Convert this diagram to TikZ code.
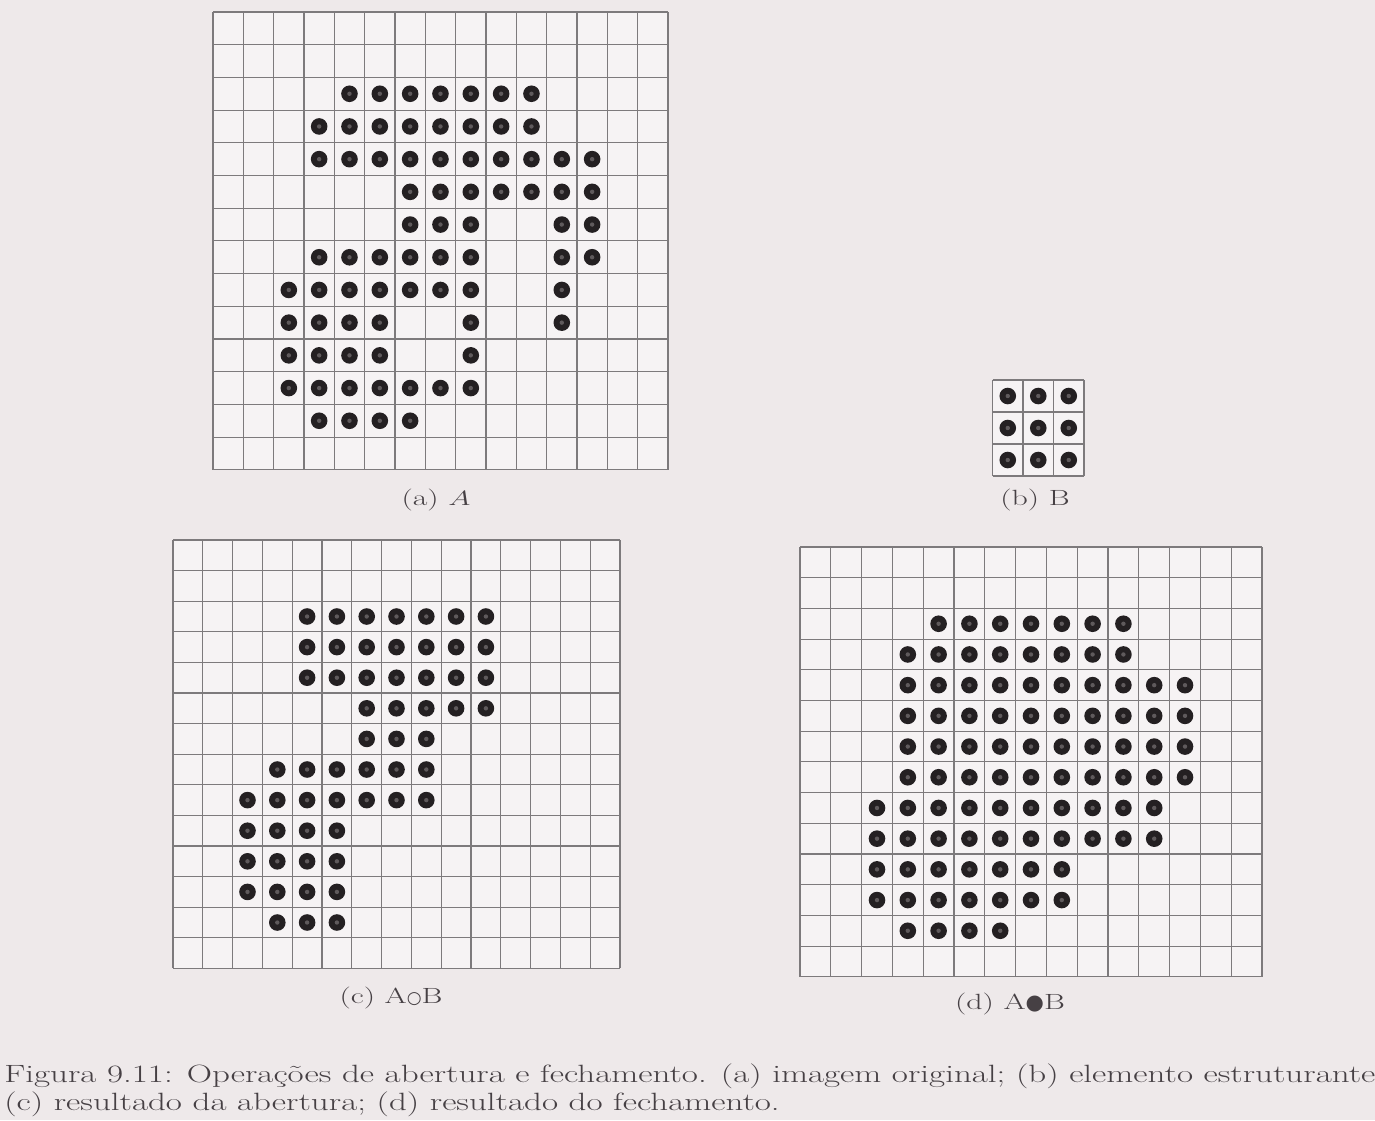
\documentclass[tikz,border=0pt]{standalone}
\usepackage{fontspec}
\newfontfamily\dejavu{DejaVu Sans}
\definecolor{paper}{RGB}{238,233,234}
\definecolor{cellbg}{RGB}{246,243,244}
\definecolor{gridc}{RGB}{125,122,124}
\definecolor{dotc}{RGB}{36,32,34}
\definecolor{dotmid}{RGB}{95,90,92}
\definecolor{inkc}{RGB}{70,64,68}
\tikzset{
  gl/.style={draw=gridc, line width=1.1pt},
  dotfill/.style={fill=dotc},
  lbl/.style={text=inkc, font=\fontsize{22}{26}\selectfont, inner sep=0pt, xscale=1.45, transform shape},
  capt/.style={text=inkc, font=\fontsize{25}{29}\selectfont, inner sep=0pt, anchor=base west, xscale=1.40, transform shape}
}
\newcommand\dotgrid[7]{%
  \begin{scope}[shift={(#1pt,-#2pt)}, x=#3pt, y=-#4pt]
    \fill[cellbg] (0,0) rectangle (#5,#6);
    \foreach \i in {0,...,#5} \draw[gl] (\i,0) -- (\i,#6);
    \foreach \j in {0,...,#6} \draw[gl] (0,\j) -- (#5,\j);
    \foreach \r/\a/\b in {#7} {
      \foreach \c in {\a,...,\b} {
        \fill[dotfill] (\c+0.5,\r+0.5) circle[radius=8.3pt];
        \fill[dotmid] (\c+0.5,\r+0.5) circle[radius=2.2pt];
      }
    }
  \end{scope}}
\begin{document}
\begin{tikzpicture}[x=1pt,y=-1pt]
\useasboundingbox (0,0) rectangle (1375,1120);
\fill[paper] (0,0) rectangle (1375,1120);
% (a) A
\dotgrid{213}{12}{30.33}{32.7}{15}{14}{2/4/10, 3/3/10, 4/3/12, 5/6/12, 6/6/8, 6/11/12, 7/3/8, 7/11/12, 8/2/8, 8/11/11, 9/2/5, 9/8/8, 9/11/11, 10/2/5, 10/8/8, 11/2/8, 12/3/6}
% (b) B
\dotgrid{992.5}{380}{30.5}{32}{3}{3}{0/0/2, 1/0/2, 2/0/2}
% (c) opening
\dotgrid{173}{540}{29.8}{30.6}{15}{14}{2/4/10, 3/4/10, 4/4/10, 5/6/10, 6/6/8, 7/3/8, 8/2/8, 9/2/5, 10/2/5, 11/2/5, 12/3/5}
% (d) closing
\dotgrid{800}{547}{30.8}{30.7}{15}{14}{2/4/10, 3/3/10, 4/3/12, 5/3/12, 6/3/12, 7/3/12, 8/2/11, 9/2/11, 10/2/8, 11/2/8, 12/3/6}
% labels
\node[lbl] (la) at (436,500) {(a) $A$};
\node[lbl] (lb) at (1035,500) {(b) B};
\node[lbl] (lc) at (391,998) {(c) A{\dejavu\fontsize{17}{17}\selectfont\scalebox{0.69}[1]{○}}B};
\node[lbl] (ld) at (1010,1004) {(d) A{\dejavu\fontsize{21}{21}\selectfont\scalebox{0.69}[1]{●}}B};
% caption
\node[capt] (cap1) at (4,1082) {Figura 9.11: Operações de abertura e fechamento. (a) imagem original; (b) elemento estruturante};
\node[capt] (cap2) at (4,1110) {(c) resultado da abertura; (d) resultado do fechamento.};
\end{tikzpicture}
\end{document}
